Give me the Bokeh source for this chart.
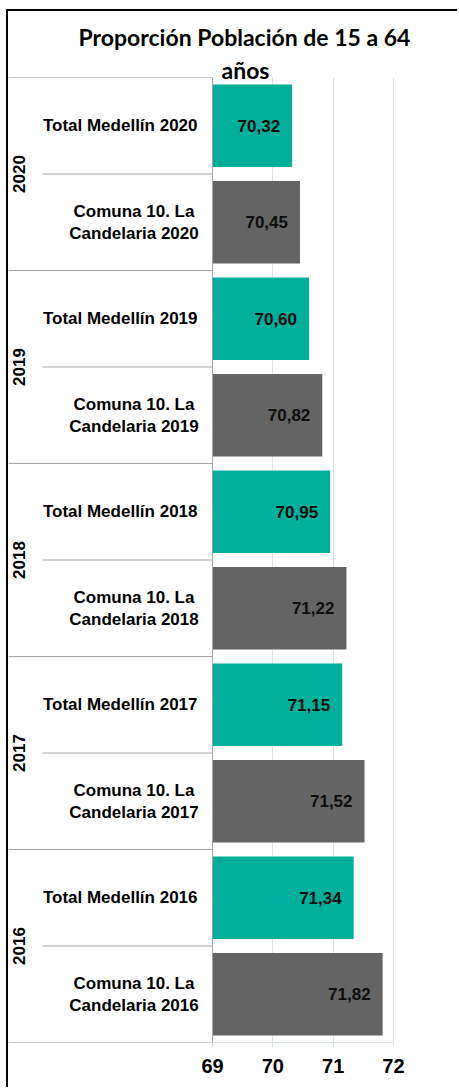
from math import pi
from bokeh.plotting import figure
from bokeh.models import (FactorRange, Range1d, FixedTicker, Span, ColumnDataSource, Title,
                          CDSView, GroupFilter)
from bokeh.core.properties import value
from bokeh.embed import file_html
from bokeh.resources import INLINE

# ---------------- data ----------------
years = ["2016", "2017", "2018", "2019", "2020"]
comuna_values = [71.82, 71.52, 71.22, 70.82, 70.45]
total_values = [71.34, 71.15, 70.95, 70.60, 70.32]
comuna_name = "Comuna 10. La Candelaria"
comuna_label = "Comuna 10. La\nCandelaria"
total_name = "Total Medellín"
tick_values = [69, 70, 71, 72]
grid_values = [70, 71, 72]
title_lines = ["Proporción Población de 15 a 64", "años"]

# ---------------- styles ----------------
TEAL = "#00AF9A"
GREY = "#646464"
SEP = "#a6a6a6"
GRID = "#d9e3e3"
FONT = "Liberation Sans"
X_MIN, X_MAX = 69, 72
PX_PER_UNIT = 60.33
W, H = 451, 1078
AXIS_PX = 204          # canvas x of the value axis origin
TOP, BOTTOM = 65, 47   # borders around the frame

# ---------------- build ----------------
factors, vals, colors, sub_labels, texts, kinds = [], [], [], [], [], []
for y, c, t in zip(years, comuna_values, total_values):
    factors.append((y, f"{comuna_name} {y}"))
    vals.append(c); colors.append(GREY); sub_labels.append(f"{comuna_label} {y}"); kinds.append("comuna")
    factors.append((y, f"{total_name} {y}"))
    vals.append(t); colors.append(TEAL); sub_labels.append(f"{total_name} {y}"); kinds.append("total")
    texts.extend([f"{c:.2f}".replace(".", ","), f"{t:.2f}".replace(".", ",")])

src = ColumnDataSource(dict(factor=factors, value=vals, color=colors,
                            sub=sub_labels, text=texts, kind=kinds))

x_start = X_MIN - AXIS_PX / PX_PER_UNIT
x_end = X_MIN + (W - AXIS_PX) / PX_PER_UNIT

p = figure(width=W, height=H, output_backend="svg", toolbar_location=None,
           title=title_lines[0],
           y_range=FactorRange(factors=factors, factor_padding=0, group_padding=0, range_padding=0),
           x_range=Range1d(x_start, x_end), y_axis_location=None,
           min_border_left=0, min_border_right=0, min_border_top=TOP, min_border_bottom=BOTTOM)
p.styles = {"border-top": "2px solid #000", "border-left": "2px solid #000",
            "margin-left": "6px", "margin-top": "9px"}
p.outline_line_color = None
p.background_fill_color = "white"
p.border_fill_color = "white"

# title (two lines, like the wrapped original)
p.title.align = "left"
p.title.offset = 70
p.title.standoff = 18
p.title.text_font = "Lato"
p.title.text_font_style = "bold"
p.title.text_font_size = "23px"
p.title.text_color = "#000000"
p.add_layout(Title(text=title_lines[1], align="left", offset=213, standoff=-12,
                   text_font="Lato", text_font_style="bold", text_font_size="23px",
                   text_color="#000000"), "above")

# grid
p.ygrid.visible = False
p.xgrid.ticker = FixedTicker(ticks=grid_values)
p.xgrid.grid_line_color = GRID
p.xgrid.grid_line_width = 1

# x axis
ax = p.xaxis[0]
ax.ticker = FixedTicker(ticks=tick_values)
ax.bounds = (X_MIN, X_MAX)
ax.axis_line_color = GRID
ax.major_tick_line_color = GRID
ax.major_tick_in = 0
ax.major_tick_out = 5
ax.minor_tick_line_color = None
ax.major_label_text_font = FONT
ax.major_label_text_font_style = "bold"
ax.major_label_text_font_size = "20px"
ax.major_label_text_color = "#000000"
ax.major_label_standoff = 11

# bars
p.hbar(y="factor", left=X_MIN, right="value", height=0.856, fill_color="color",
       line_color=None, source=src)

# data labels
p.text(x="value", y="factor", text="text", source=src, x_offset=-12,
       text_align="right", text_baseline="middle", text_font=value(FONT),
       text_font_style="bold", text_font_size="17px", text_color="#0d0d0d")

# category labels
label_style = dict(y="factor", text="sub", source=src, text_baseline="middle",
                   text_font=value(FONT), text_font_style="bold", text_font_size="17px",
                   text_color="#000000", text_line_height=1.15)
p.text(x=X_MIN, x_offset=-15, text_align="right",
       view=CDSView(filter=GroupFilter(column_name="kind", group="total")), **label_style)
p.text(x=X_MIN, x_offset=-78.5, text_align="center",
       view=CDSView(filter=GroupFilter(column_name="kind", group="comuna")), **label_style)

# year group labels
p.text(x=[X_MIN] * len(years), y=years, text=years, x_offset=-194, angle=pi / 2,
       text_align="center", text_baseline="middle", text_font=value(FONT),
       text_font_style="bold", text_font_size="17px", text_color="#000000")

# separators
short_x0 = X_MIN - (AXIS_PX - 34) / PX_PER_UNIT
seg_y, seg_x0 = [], []
for y in years:
    seg_y.append([y, f"{total_name} {y}", -0.5]); seg_x0.append(short_x0)
    seg_y.append([y, f"{total_name} {y}", 0.5]); seg_x0.append(x_start)
seg_y.append([years[0], f"{comuna_name} {years[0]}", -0.5]); seg_x0.append(x_start)
p.segment(x0=seg_x0, x1=[X_MIN] * len(seg_y), y0=seg_y, y1=seg_y,
          line_color=SEP, line_width=1)

p.add_layout(Span(location=X_MIN, dimension="height", line_color=SEP, line_width=1))

open("out.html", "w").write(file_html(p, INLINE))
